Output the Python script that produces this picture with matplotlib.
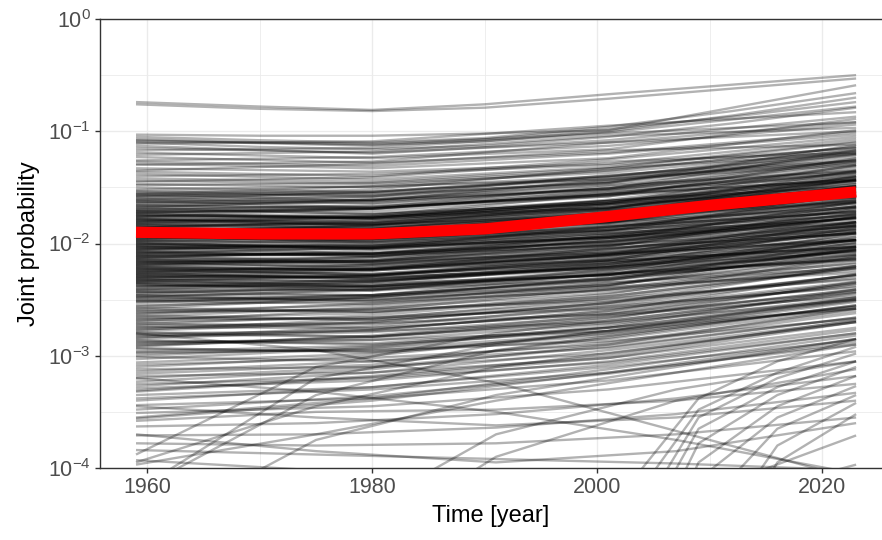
import numpy as np
import matplotlib.pyplot as plt
from matplotlib.ticker import FixedLocator, NullFormatter

plt.rcParams['font.family'] = ['Liberation Sans', 'DejaVu Sans']
plt.rcParams['mathtext.default'] = 'regular'

# all curves are log10(joint probability) at these years
top_years = [1959, 1970, 1980, 1990, 2001, 2012, 2023]
top_curves = [
    (-0.74, -0.78, -0.81, -0.76, -0.67, -0.585, -0.50),
    (-0.76, -0.80, -0.82, -0.79, -0.71, -0.62, -0.53),
    (-1.03, -1.04, -1.04, -1.02, -0.99, -0.79, -0.59),
    (-1.05, -1.08, -1.10, -1.06, -0.96, -0.82, -0.66),
    (-1.07, -1.10, -1.12, -1.09, -1.00, -0.86, -0.70),
    (-1.09, -1.10, -1.11, -1.07, -0.98, -0.87, -0.74),
    (-1.10, -1.14, -1.16, -1.13, -1.05, -0.93, -0.79),
]

band_years = [1959, 1980, 2001, 2023]

upper_curves = [
    (-1.08, -1.13, -1.01, -0.78), (-1.11, -1.09, -0.95, -0.83),
    (-1.13, -1.20, -1.08, -0.87), (-1.15, -1.19, -1.10, -0.92),
    (-1.17, -1.15, -1.02, -0.92), (-1.19, -1.24, -1.16, -0.89),
    (-1.21, -1.18, -1.04, -0.97), (-1.23, -1.28, -1.19, -1.01),
    (-1.26, -1.23, -1.13, -0.94), (-1.27, -1.31, -1.20, -1.03),
    (-1.29, -1.33, -1.24, -0.99), (-1.30, -1.27, -1.10, -1.00),
    (-1.33, -1.36, -1.29, -1.07), (-1.35, -1.29, -1.17, -1.12),
    (-1.36, -1.40, -1.25, -1.05), (-1.38, -1.43, -1.32, -1.09),
    (-1.40, -1.38, -1.30, -1.15), (-1.42, -1.45, -1.33, -1.10),
    (-1.44, -1.47, -1.37, -1.17), (-1.45, -1.41, -1.27, -1.19),
    (-1.47, -1.50, -1.40, -1.21), (-1.48, -1.46, -1.35, -1.14),
    (-1.50, -1.54, -1.43, -1.18), (-1.52, -1.49, -1.43, -1.26),
    (-1.53, -1.55, -1.41, -1.16), (-1.54, -1.57, -1.45, -1.23),
]

core_curves = [
    (-1.55, -1.58, -1.45, -1.21), (-1.56, -1.49, -1.35, -1.14),
    (-1.56, -1.62, -1.52, -1.30), (-1.57, -1.52, -1.33, -1.20),
    (-1.58, -1.54, -1.41, -1.28), (-1.58, -1.56, -1.46, -1.20),
    (-1.59, -1.59, -1.46, -1.12), (-1.60, -1.62, -1.51, -1.38),
    (-1.61, -1.54, -1.40, -1.19), (-1.61, -1.64, -1.51, -1.27),
    (-1.62, -1.68, -1.58, -1.36), (-1.63, -1.61, -1.51, -1.25),
    (-1.63, -1.58, -1.39, -1.26), (-1.64, -1.64, -1.51, -1.17),
    (-1.65, -1.61, -1.48, -1.35), (-1.66, -1.68, -1.57, -1.44),
    (-1.66, -1.69, -1.56, -1.32), (-1.67, -1.62, -1.43, -1.30),
    (-1.68, -1.74, -1.64, -1.42), (-1.68, -1.61, -1.47, -1.26),
    (-1.69, -1.67, -1.57, -1.31), (-1.70, -1.66, -1.53, -1.40),
    (-1.71, -1.73, -1.62, -1.49), (-1.71, -1.71, -1.58, -1.24),
    (-1.72, -1.78, -1.68, -1.46), (-1.73, -1.69, -1.56, -1.43),
    (-1.73, -1.68, -1.49, -1.36), (-1.74, -1.77, -1.64, -1.40),
    (-1.75, -1.77, -1.66, -1.53), (-1.76, -1.74, -1.64, -1.38),
    (-1.76, -1.69, -1.55, -1.34), (-1.77, -1.77, -1.64, -1.30),
    (-1.78, -1.81, -1.68, -1.44), (-1.78, -1.84, -1.74, -1.52),
    (-1.79, -1.81, -1.70, -1.57), (-1.80, -1.75, -1.56, -1.43),
    (-1.81, -1.79, -1.69, -1.43), (-1.81, -1.77, -1.64, -1.51),
    (-1.82, -1.82, -1.69, -1.35), (-1.83, -1.76, -1.62, -1.41),
    (-1.83, -1.86, -1.73, -1.49), (-1.84, -1.86, -1.75, -1.62),
    (-1.85, -1.91, -1.81, -1.59), (-1.86, -1.81, -1.62, -1.49),
    (-1.86, -1.79, -1.65, -1.44), (-1.87, -1.87, -1.74, -1.40),
    (-1.88, -1.86, -1.76, -1.50), (-1.88, -1.84, -1.71, -1.58),
    (-1.89, -1.84, -1.65, -1.52), (-1.90, -1.90, -1.77, -1.43),
    (-1.91, -1.94, -1.81, -1.57), (-1.91, -1.84, -1.70, -1.49),
    (-1.92, -1.90, -1.80, -1.54), (-1.93, -1.99, -1.89, -1.67),
    (-1.93, -1.89, -1.76, -1.63), (-1.94, -1.96, -1.85, -1.72),
    (-1.95, -1.95, -1.82, -1.48), (-1.96, -1.91, -1.72, -1.59),
    (-1.96, -1.89, -1.75, -1.54), (-1.97, -2.00, -1.87, -1.63),
    (-1.98, -1.94, -1.81, -1.68), (-1.98, -1.96, -1.86, -1.60),
    (-1.99, -2.05, -1.95, -1.73), (-2.00, -2.02, -1.91, -1.78),
    (-2.01, -1.96, -1.77, -1.64), (-2.01, -2.04, -1.91, -1.67),
    (-2.02, -2.02, -1.89, -1.55), (-2.03, -2.09, -1.99, -1.77),
    (-2.03, -2.05, -1.94, -1.81), (-2.04, -1.97, -1.83, -1.62),
    (-2.05, -2.01, -1.88, -1.75), (-2.06, -2.04, -1.94, -1.68),
    (-2.06, -1.99, -1.85, -1.64), (-2.07, -2.09, -1.98, -1.85),
    (-2.08, -2.04, -1.91, -1.78), (-2.08, -2.11, -1.98, -1.74),
    (-2.09, -2.04, -1.85, -1.72), (-2.10, -2.10, -1.97, -1.63),
    (-2.11, -2.09, -1.99, -1.73), (-2.11, -2.17, -2.07, -1.85),
    (-2.12, -2.08, -1.95, -1.82), (-2.13, -2.06, -1.92, -1.71),
    (-2.13, -2.15, -2.04, -1.91), (-2.14, -2.12, -2.02, -1.76),
    (-2.15, -2.18, -2.05, -1.81), (-2.16, -2.22, -2.12, -1.90),
    (-2.16, -2.16, -2.03, -1.69), (-2.17, -2.12, -1.93, -1.80),
    (-2.18, -2.20, -2.09, -1.96), (-2.18, -2.14, -2.01, -1.88),
    (-2.19, -2.12, -1.98, -1.77), (-2.20, -2.15, -1.96, -1.83),
    (-2.21, -2.24, -2.11, -1.87), (-2.21, -2.19, -2.09, -1.83),
    (-2.22, -2.28, -2.18, -1.96), (-2.23, -2.23, -2.10, -1.76),
    (-2.23, -2.21, -2.11, -1.85), (-2.24, -2.27, -2.14, -1.90),
    (-2.25, -2.27, -2.16, -2.03), (-2.26, -2.32, -2.22, -2.00),
    (-2.26, -2.19, -2.05, -1.84), (-2.27, -2.23, -2.10, -1.97),
    (-2.28, -2.23, -2.04, -1.91), (-2.28, -2.28, -2.15, -1.81),
    (-2.29, -2.31, -2.20, -2.07), (-2.30, -2.28, -2.18, -1.92),
    (-2.31, -2.34, -2.21, -1.97), (-2.31, -2.24, -2.10, -1.89),
    (-2.32, -2.38, -2.28, -2.06), (-2.33, -2.33, -2.20, -1.86),
    (-2.33, -2.29, -2.16, -2.03), (-2.34, -2.29, -2.10, -1.97),
    (-2.35, -2.33, -2.23, -1.97), (-2.36, -2.42, -2.32, -2.10),
    (-2.36, -2.39, -2.26, -2.02), (-2.37, -2.39, -2.28, -2.15),
    (-2.38, -2.34, -2.21, -2.08), (-2.38, -2.38, -2.25, -1.91),
    (-2.39, -2.32, -2.18, -1.97), (-2.40, -2.35, -2.16, -2.03),
    (-2.41, -2.41, -2.28, -1.94), (-2.41, -2.34, -2.20, -1.99),
    (-2.42, -2.37, -2.18, -2.05), (-2.43, -2.46, -2.33, -2.09),
    (-2.43, -2.41, -2.31, -2.05), (-2.44, -2.40, -2.27, -2.14),
    (-2.45, -2.38, -2.24, -2.03), (-2.46, -2.46, -2.33, -1.99),
    (-2.46, -2.52, -2.42, -2.20), (-2.47, -2.42, -2.23, -2.10),
    (-2.48, -2.50, -2.39, -2.26), (-2.48, -2.41, -2.27, -2.06),
    (-2.49, -2.47, -2.37, -2.11), (-2.50, -2.50, -2.37, -2.03),
    (-2.51, -2.54, -2.41, -2.17), (-2.51, -2.46, -2.27, -2.14),
    (-2.52, -2.48, -2.35, -2.22), (-2.53, -2.46, -2.32, -2.11),
    (-1.70, -1.69, -1.55, -1.37), (-1.72, -1.69, -1.53, -1.28),
    (-1.74, -1.78, -1.68, -1.44), (-1.75, -1.76, -1.68, -1.47),
    (-1.77, -1.76, -1.62, -1.44), (-1.79, -1.83, -1.73, -1.49),
    (-1.80, -1.77, -1.61, -1.36), (-1.82, -1.83, -1.75, -1.54),
    (-1.84, -1.83, -1.69, -1.51), (-1.85, -1.82, -1.66, -1.41),
    (-1.87, -1.91, -1.81, -1.57), (-1.89, -1.90, -1.82, -1.61),
    (-1.90, -1.87, -1.71, -1.46), (-1.92, -1.91, -1.77, -1.59),
    (-1.94, -1.98, -1.88, -1.64), (-1.95, -1.96, -1.88, -1.67),
    (-1.97, -1.94, -1.78, -1.53), (-1.99, -1.98, -1.84, -1.66),
    (-2.00, -2.04, -1.94, -1.70), (-2.02, -2.03, -1.95, -1.74),
    (-2.04, -2.03, -1.89, -1.71), (-2.05, -2.02, -1.86, -1.61),
    (-2.07, -2.11, -2.01, -1.77), (-2.09, -2.10, -2.02, -1.81),
    (-2.10, -2.09, -1.95, -1.77), (-2.12, -2.09, -1.93, -1.68),
    (-2.14, -2.18, -2.08, -1.84), (-2.15, -2.16, -2.08, -1.87),
    (-2.17, -2.16, -2.02, -1.84), (-2.19, -2.16, -2.00, -1.75),
    (-2.20, -2.24, -2.14, -1.90), (-2.22, -2.23, -2.15, -1.94),
    (-2.24, -2.23, -2.09, -1.91), (-2.25, -2.22, -2.06, -1.81),
    (-2.27, -2.31, -2.21, -1.97), (-2.29, -2.30, -2.22, -2.01),
    (-2.30, -2.29, -2.15, -1.97), (-2.32, -2.29, -2.13, -1.88),
    (-2.34, -2.38, -2.28, -2.04), (-2.35, -2.36, -2.28, -2.07),
]

lower_curves = [
    (-2.55, -2.51, -2.37, -2.13), (-2.56, -2.48, -2.31, -2.06),
    (-2.57, -2.61, -2.49, -2.22), (-2.58, -2.48, -2.30, -2.13),
    (-2.59, -2.61, -2.47, -2.21), (-2.60, -2.55, -2.38, -2.05),
    (-2.61, -2.59, -2.51, -2.31), (-2.62, -2.58, -2.44, -2.20),
    (-2.63, -2.53, -2.35, -2.18), (-2.64, -2.68, -2.56, -2.29),
    (-2.65, -2.57, -2.40, -2.15), (-2.66, -2.68, -2.54, -2.28),
    (-2.67, -2.62, -2.45, -2.12), (-2.68, -2.66, -2.58, -2.38),
    (-2.69, -2.59, -2.41, -2.24), (-2.70, -2.66, -2.52, -2.28),
    (-2.71, -2.75, -2.63, -2.36), (-2.72, -2.64, -2.47, -2.22),
    (-2.73, -2.71, -2.63, -2.43), (-2.74, -2.76, -2.62, -2.36),
    (-2.75, -2.70, -2.53, -2.20), (-2.76, -2.72, -2.58, -2.34),
    (-2.77, -2.67, -2.49, -2.32), (-2.78, -2.70, -2.53, -2.28),
    (-2.79, -2.83, -2.71, -2.44), (-2.80, -2.78, -2.70, -2.50),
    (-2.81, -2.83, -2.69, -2.43), (-2.82, -2.77, -2.60, -2.27),
    (-2.83, -2.79, -2.65, -2.41), (-2.84, -2.74, -2.56, -2.39),
    (-2.85, -2.77, -2.60, -2.35), (-2.86, -2.90, -2.78, -2.51),
    (-2.87, -2.89, -2.75, -2.49), (-2.88, -2.86, -2.78, -2.58),
    (-2.89, -2.84, -2.67, -2.34), (-2.90, -2.86, -2.72, -2.48),
    (-2.91, -2.83, -2.66, -2.41), (-2.92, -2.82, -2.64, -2.47),
    (-2.93, -2.97, -2.85, -2.58), (-2.94, -2.96, -2.82, -2.56),
    (-2.96, -2.91, -2.74, -2.41), (-2.97, -2.95, -2.87, -2.67),
    (-2.98, -2.94, -2.80, -2.56), (-3.00, -2.92, -2.75, -2.50),
    (-3.01, -3.05, -2.93, -2.66), (-3.03, -2.93, -2.75, -2.58),
    (-3.06, -2.98, -2.80, -2.52), (-3.08, -3.02, -2.90, -2.62),
    (-3.10, -3.00, -2.78, -2.48), (-3.12, -3.10, -2.98, -2.70),
    (-3.14, -3.05, -2.88, -2.60), (-3.16, -3.08, -2.84, -2.55),
    (-3.18, -3.15, -3.02, -2.75), (-3.20, -3.10, -2.92, -2.66),
    (-3.23, -3.12, -2.90, -2.58), (-3.25, -3.20, -3.06, -2.80),
    (-3.27, -3.15, -2.95, -2.69), (-3.29, -3.22, -3.05, -2.77),
    (-3.31, -3.18, -3.00, -2.68), (-3.32, -3.19, -3.02, -2.70),
    (-3.35, -3.28, -3.10, -2.86), (-3.38, -3.30, -3.15, -2.90),
    (-3.40, -3.28, -3.08, -2.80), (-3.44, -3.38, -3.22, -2.96),
    (-3.48, -3.36, -3.16, -2.88), (-3.51, -3.45, -3.30, -3.05),
    (-3.55, -3.38, -3.12, -2.82), (-3.56, -3.40, -3.15, -2.85),
]

sparse_years = [1959, 1975, 1991, 2007, 2023]
sparse_curves = [
    (-3.63, -3.60, -3.52, -3.38, -3.18), (-3.71, -3.70, -3.64, -3.52, -3.33),
    (-3.78, -3.80, -3.78, -3.70, -3.55), (-3.84, -3.88, -3.92, -3.96, -4.02),
    (-3.88, -3.10, -2.80, -2.62, -2.45), (-3.95, -3.45, -3.10, -2.90, -2.70),
    (-3.97, -3.70, -3.40, -3.15, -2.90), (-3.93, -4.02, -4.15, -4.30, -4.50),
    (-4.20, -3.35, -2.95, -2.75, -2.55), (-4.20, -3.20, -2.90, -2.70, -2.50),
    (-4.60, -3.75, -3.35, -3.10, -2.85), (-2.80, -2.95, -3.24, -3.67, -4.10),
    (-4.80, -4.70, -4.60, -4.30, -3.71), (-5.00, -5.00, -4.80, -4.40, -3.97),
    (-5.00, -4.60, -3.70, -3.30, -3.05), (-5.00, -4.90, -3.90, -3.40, -3.12),
    (-3.70, -3.85, -3.95, -3.85, -3.60), (-3.45, -3.55, -3.62, -3.55, -3.40),
    (-3.58, -3.50, -3.48, -3.40, -3.25), (-3.20, -3.32, -3.50, -3.75, -4.05),
]

late_years = [1995, 2002, 2009, 2016, 2023]
late_curves = [
    (-6.0, -4.25, -3.38, -3.05, -2.85), (-6.0, -4.45, -3.48, -3.15, -2.92),
    (-6.0, -4.70, -3.55, -3.20, -2.98), (-6.0, -4.90, -3.65, -3.28, -3.05),
    (-6.0, -5.20, -3.78, -3.35, -3.10), (-6.0, -5.50, -3.95, -3.45, -3.18),
    (-6.0, -5.80, -4.10, -3.55, -3.27), (-6.0, -6.00, -4.40, -3.65, -3.35),
    (-6.0, -6.00, -4.80, -3.80, -3.42), (-6.0, -6.00, -5.20, -3.95, -3.52),
]

mean_years = [1959, 1970, 1980, 1990, 2000, 2010, 2023]
mean_curve = [-1.90, -1.915, -1.915, -1.87, -1.77, -1.66, -1.54]

xticks = [1960, 1980, 2000, 2020]
xminor = [1970, 1990, 2010]
yticks = [1e-4, 1e-3, 1e-2, 1e-1, 1e0]
yminor = [10 ** -3.5, 10 ** -2.5, 10 ** -1.5, 10 ** -0.5]

fig = plt.figure(figsize=(8.82, 5.4), dpi=100)
ax = fig.add_axes([100 / 882, 72 / 540, 782 / 882, 449 / 540])
ax.set_yscale('log')

groups = [
    (top_years, top_curves), (band_years, upper_curves),
    (band_years, core_curves), (band_years, lower_curves),
    (sparse_years, sparse_curves), (late_years, late_curves),
]
for years, curves in groups:
    for c in curves:
        ax.plot(years, 10.0 ** np.array(c), color='black', alpha=0.3,
                lw=1.7, solid_capstyle='butt', zorder=2)

ax.plot(mean_years, 10.0 ** np.array(mean_curve), color='red', lw=8.1,
        solid_capstyle='butt', zorder=3)

ax.set_xlim(1955.8, 2025.3)
ax.set_ylim(1e-4, 1)
ax.set_xticks(xticks)
ax.set_xticks(xminor, minor=True)
ax.set_yticks(yticks)
ax.yaxis.set_minor_locator(FixedLocator(yminor))
ax.yaxis.set_minor_formatter(NullFormatter())

ax.grid(which='major', color='#EBEBEB', lw=1.0)
ax.grid(which='minor', color='#EBEBEB', lw=0.6)
ax.set_axisbelow(True)

ax.tick_params(which='minor', length=0)
ax.tick_params(which='major', length=3.6, width=1.0, color='#333333',
               labelsize=15.5, labelcolor='#4D4D4D', pad=3)

for side in ['left', 'top', 'bottom']:
    ax.spines[side].set_color('#333333')
    ax.spines[side].set_linewidth(1.0)
ax.spines['right'].set_visible(False)

ax.set_xlabel('Time [year]', fontsize=17, color='black', labelpad=5)
ax.set_ylabel('Joint probability', fontsize=17, color='black', labelpad=6)

plt.savefig('out.png', dpi=100)
